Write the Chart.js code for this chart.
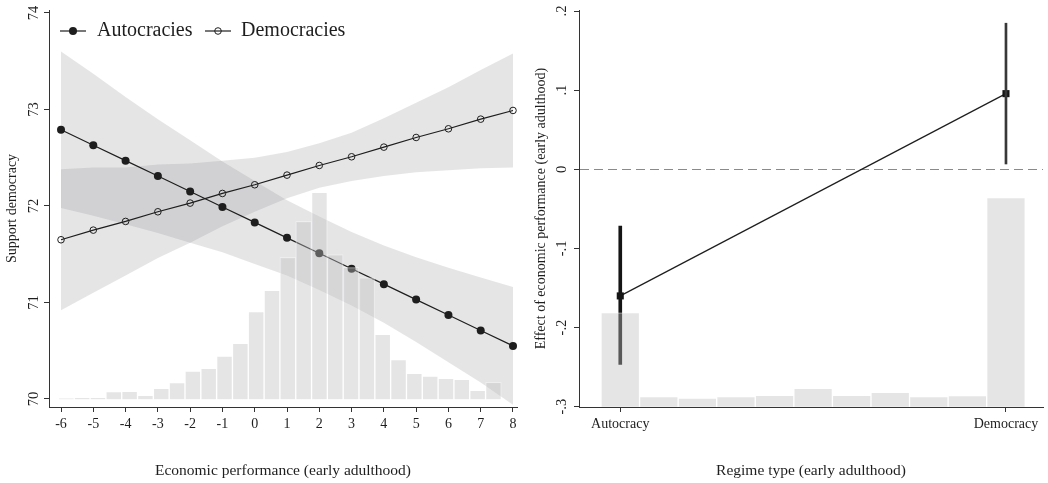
<!DOCTYPE html>
<html><head><meta charset="utf-8">
<script src="https://cdn.jsdelivr.net/npm/chart.js@4.4.1/dist/chart.umd.min.js"></script>
<style>
html,body{margin:0;padding:0;background:#fff;}
#wrap{display:flex;width:1048px;height:483px;}
canvas{display:block;}
</style></head><body>
<div id="wrap"><canvas id="left" width="524" height="483"></canvas><canvas id="right" width="524" height="483"></canvas></div>
<script>
// ---------- Left panel data ----------
const econX = [-6,-5,-4,-3,-2,-1,0,1,2,3,4,5,6,7,8];
const seriesNames = ['Autocracies','Democracies'];
const autocracyFit   = [72.79,72.63,72.47,72.31,72.15,71.99,71.83,71.67,71.51,71.35,71.19,71.03,70.87,70.71,70.55];
const autocracyUpper = [73.60,73.37,73.13,72.90,72.68,72.46,72.26,72.06,71.89,71.73,71.59,71.47,71.36,71.26,71.16];
const autocracyLower = [71.98,71.90,71.81,71.72,71.62,71.52,71.40,71.28,71.13,70.97,70.79,70.59,70.38,70.17,69.94];
const democracyFit   = [71.65,71.75,71.84,71.94,72.03,72.13,72.22,72.32,72.42,72.51,72.61,72.71,72.80,72.90,72.99];
const democracyUpper = [72.38,72.40,72.40,72.43,72.44,72.47,72.50,72.56,72.65,72.76,72.91,73.07,73.23,73.41,73.58];
const democracyLower = [70.92,71.10,71.28,71.46,71.62,71.79,71.94,72.08,72.19,72.26,72.31,72.35,72.37,72.39,72.40];
const supportTicks = [70,71,72,73,74];
const econBinCenters = [-5.835,-5.345,-4.855,-4.365,-3.875,-3.385,-2.895,-2.405,-1.915,-1.425,-0.935,-0.445,0.045,0.535,1.025,1.515,2.005,2.495,2.985,3.475,3.965,4.455,4.945,5.435,5.925,6.415,6.905,7.395];
const econBinShare = [0.06,0.13,0.13,0.50,0.52,0.26,0.71,1.08,1.82,2.00,2.79,3.61,5.65,7.03,9.15,11.47,13.34,9.33,8.51,7.84,4.19,2.56,1.68,1.50,1.35,1.29,0.58,1.10];

// ---------- Right panel data ----------
const regimeCategories = ['Autocracy','Democracy'];
const regimeX = [0,1];
const effectEstimate = [-0.160, 0.0956];
const effectLow  = [-0.2465, 0.0067];
const effectHigh = [-0.0717, 0.1846];
const effectTicks = [-0.3,-0.2,-0.1,0,0.1,0.2];
const regimeBinCenters = [0,0.1,0.2,0.3,0.4,0.5,0.6,0.7,0.8,0.9,1.0];
const regimeBinShare = [23.0,2.5,2.1,2.5,2.8,4.5,2.8,3.5,2.5,2.7,51.1];

// ---------- Styles ----------
const FONT = "'Liberation Serif', 'Times New Roman', serif";
const INK = '#1e1e1e';
const BAND = 'rgba(135,135,140,0.22)';
const HIST = 'rgba(190,190,192,0.40)';
const HIST_EDGE = 'rgba(255,255,255,0.35)';

Chart.defaults.font.family = FONT;
Chart.defaults.color = INK;

const pts = (xs, ys) => xs.map((x, i) => ({x: x, y: ys[i]}));

const tickGrid = {display:true, drawOnChartArea:false, drawTicks:true, tickLength:5, tickColor:'#333', tickWidth:1, offset:false};
const axisBorder = {display:true, color:'#333', width:1};

const legendPlugin = {
  id: 'stataLegend',
  afterDraw(chart) {
    const ctx = chart.ctx;
    ctx.save();
    ctx.strokeStyle = INK; ctx.lineWidth = 1.2;
    ctx.beginPath(); ctx.moveTo(60, 31); ctx.lineTo(86, 31); ctx.stroke();
    ctx.fillStyle = INK;
    ctx.beginPath(); ctx.arc(73, 31, 4, 0, Math.PI * 2); ctx.fill();
    ctx.beginPath(); ctx.moveTo(205, 31); ctx.lineTo(231, 31); ctx.stroke();
    ctx.lineWidth = 1;
    ctx.beginPath(); ctx.arc(218, 31, 3.3, 0, Math.PI * 2); ctx.stroke();
    ctx.font = "20px " + FONT;
    ctx.textBaseline = 'middle';
    ctx.fillStyle = INK;
    ctx.fillText(seriesNames[0], 97, 31);
    ctx.fillText(seriesNames[1], 241, 31);
    ctx.restore();
  }
};

new Chart(document.getElementById('left'), {
  type: 'bar',
  data: {
    datasets: [
      {type:'bar', label:'hist', data: pts(econBinCenters, econBinShare), xAxisID:'x', yAxisID:'y2',
       backgroundColor: HIST, borderColor: HIST_EDGE, borderWidth: 1, grouped:false,
       barPercentage:1, categoryPercentage:1, order:0},
      {type:'line', label:'aU', data: pts(econX, autocracyUpper), yAxisID:'y', fill:'+1',
       backgroundColor: BAND, borderWidth:0, pointRadius:0, order:2},
      {type:'line', label:'aL', data: pts(econX, autocracyLower), yAxisID:'y', fill:false,
       borderWidth:0, pointRadius:0, order:2},
      {type:'line', label:'dU', data: pts(econX, democracyUpper), yAxisID:'y', fill:'+1',
       backgroundColor: BAND, borderWidth:0, pointRadius:0, order:2},
      {type:'line', label:'dL', data: pts(econX, democracyLower), yAxisID:'y', fill:false,
       borderWidth:0, pointRadius:0, order:2},
      {type:'line', label: seriesNames[0], data: pts(econX, autocracyFit), yAxisID:'y',
       borderColor: INK, borderWidth:1.2, pointRadius:4, pointBackgroundColor: INK, pointBorderColor: INK,
       pointBorderWidth:0, fill:false, order:1},
      {type:'line', label: seriesNames[1], data: pts(econX, democracyFit), yAxisID:'y',
       borderColor: INK, borderWidth:1.2, pointRadius:3.3, pointBackgroundColor:'rgba(0,0,0,0)', pointBorderColor: INK,
       pointBorderWidth:1, fill:false, order:1}
    ]
  },
  options: {
    responsive:false, animation:false, devicePixelRatio:1,
    layout:{padding:{top:10, right:7, left:0, bottom:0}},
    plugins:{legend:{display:false}, tooltip:{enabled:false}},
    scales: {
      x: {type:'linear', min:-6.372, max:8.124, offset:false,
          afterBuildTicks: s => { s.ticks = econX.map(v => ({value:v})); },
          ticks:{autoSkip:false, maxRotation:0, minRotation:0, padding:4, color:INK, font:{size:14}, callback: v => String(v)},
          grid: tickGrid, border: axisBorder,
          title:{display:true, text:'Economic performance (early adulthood)', color:INK, font:{size:15.5}, padding:{top:0,bottom:3}},
          afterFit: s => { s.height = 76; s.paddingLeft = 0; s.paddingRight = 0; }},
      y: {type:'linear', position:'left', min:69.917, max:74.031,
          afterBuildTicks: s => { s.ticks = supportTicks.map(v => ({value:v})); },
          ticks:{autoSkip:false, minRotation:90, maxRotation:90, crossAlign:'center', padding:3, color:INK, font:{size:14.5}, callback: v => String(v)},
          grid: tickGrid, border: axisBorder,
          title:{display:true, text:'Support democracy', color:INK, font:{size:14}, padding:{top:4,bottom:0}},
          afterFit: s => { s.width = 49; s.paddingTop = 0; s.paddingBottom = 0; }},
      y2: {type:'linear', display:false, position:'right', min:-0.496, max:25.09}
    }
  },
  plugins:[legendPlugin]
});

const fmtEffect = v => {
  if (Math.abs(v) < 1e-9) return '0';
  const s = Math.abs(v).toFixed(1).replace(/^0/, '');
  return (v < 0 ? '-' : '') + s;
};

new Chart(document.getElementById('right'), {
  type: 'bar',
  data: {
    datasets: [
      {type:'bar', label:'hist', data: pts(regimeBinCenters, regimeBinShare), xAxisID:'x', yAxisID:'y2',
       backgroundColor: HIST, borderColor: HIST_EDGE, borderWidth: 1, grouped:false,
       barPercentage:1, categoryPercentage:1, order:0},
      {type:'bar', label:'ciA', data: [{x: regimeX[0], y: [effectLow[0], effectHigh[0]]}], yAxisID:'y',
       backgroundColor:'#151515', borderWidth:0, barThickness:3, grouped:false, order:1},
      {type:'bar', label:'ciD', data: [{x: regimeX[1], y: [effectLow[1], effectHigh[1]]}], yAxisID:'y',
       backgroundColor:'#383838', borderWidth:0, barThickness:2, grouped:false, order:1},
      {type:'line', label:'effect', data: pts(regimeX, effectEstimate), yAxisID:'y',
       borderColor: INK, borderWidth:1.2, pointStyle:'rect', pointRadius:5, pointBackgroundColor:'#151515',
       pointBorderColor:'#151515', pointBorderWidth:0, fill:false, order:1}
    ]
  },
  options: {
    responsive:false, animation:false, devicePixelRatio:1,
    layout:{padding:{top:10, right:5, left:0, bottom:0}},
    plugins:{legend:{display:false}, tooltip:{enabled:false}},
    scales: {
      x: {type:'linear', min:-0.107, max:1.096, offset:false,
          afterBuildTicks: s => { s.ticks = regimeX.map(v => ({value:v})); },
          ticks:{autoSkip:false, maxRotation:0, minRotation:0, padding:4, color:INK, font:{size:14},
                 callback: v => regimeCategories[regimeX.indexOf(v)]},
          grid: tickGrid, border: axisBorder,
          title:{display:true, text:'Regime type (early adulthood)', color:INK, font:{size:15.5}, padding:{top:0,bottom:3}},
          afterFit: s => { s.height = 76; s.paddingLeft = 0; s.paddingRight = 0; }},
      y: {type:'linear', position:'left', min:-0.3004, max:0.2013,
          afterBuildTicks: s => { s.ticks = effectTicks.map(v => ({value:v})); },
          ticks:{autoSkip:false, minRotation:90, maxRotation:90, crossAlign:'center', padding:4, color:INK, font:{size:14.5}, callback: fmtEffect},
          grid: {display:true, drawOnChartArea:true, drawTicks:true, tickLength:5, tickColor:'#333', tickWidth:1, offset:false,
                 lineWidth:1, color: c => (c.tick && Math.abs(c.tick.value) < 1e-9) ? '#8a8a8a' : 'rgba(0,0,0,0)'},
          border: {display:true, color:'#333', width:1, dash: c => (c.tick && Math.abs(c.tick.value) < 1e-9) ? [9,5] : []},
          title:{display:true, text:'Effect of economic performance (early adulthood)', color:INK, font:{size:14}, padding:{top:9,bottom:0}},
          afterFit: s => { s.width = 55; s.paddingTop = 0; s.paddingBottom = 0; }},
      y2: {type:'linear', display:false, position:'right', min:-0.07, max:96.9}
    }
  }
});
</script>
</body></html>
